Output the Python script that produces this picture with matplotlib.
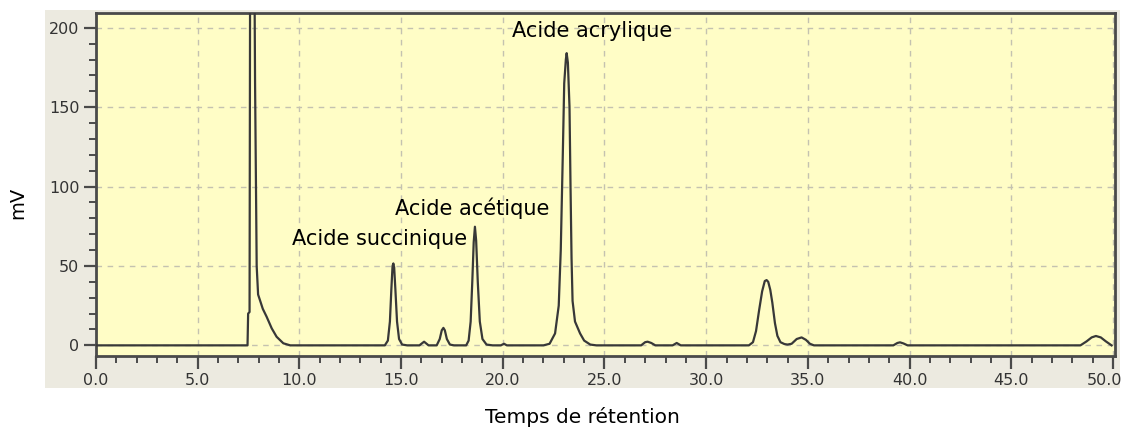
import matplotlib
matplotlib.use("Agg")
import matplotlib.pyplot as plt
import matplotlib.transforms as mtransforms
from matplotlib.patches import Rectangle
from matplotlib.ticker import MultipleLocator, FormatStrFormatter

# trace points (retention time in min, signal in mV)
t_solvent = [0.0, 7.45, 7.48, 7.55, 7.58, 7.78, 7.82, 7.90, 7.97, 8.06, 8.20, 8.39, 8.64, 8.88, 9.21, 9.55]
s_solvent = [0.0, 0.0, 20.0, 21.0, 260.0, 260.0, 166.0, 50.0, 32.0, 28.5, 23.0, 18.0, 10.7, 5.4, 1.3, 0.0]

t_succ = [14.20, 14.35, 14.45, 14.52, 14.58, 14.62, 14.66, 14.72, 14.80, 14.90, 15.05, 15.30]
s_succ = [0.0, 3.0, 15.0, 35.0, 50.0, 51.6, 49.0, 35.0, 15.0, 4.0, 0.5, 0.0]

t_small1 = [15.90, 16.13, 16.35, 16.75, 16.90, 17.00, 17.08, 17.15, 17.25, 17.40, 17.60]
s_small1 = [0.0, 2.3, 0.0, 0.0, 4.0, 9.5, 11.0, 9.5, 4.0, 0.5, 0.0]

t_acet = [18.20, 18.32, 18.42, 18.50, 18.57, 18.63, 18.69, 18.77, 18.87, 19.00, 19.20, 19.50, 19.90, 20.06, 20.20]
s_acet = [0.0, 3.0, 15.0, 40.0, 65.0, 74.7, 66.0, 40.0, 15.0, 4.0, 0.5, 0.0, 0.0, 1.0, 0.0]

t_acryl = [22.00, 22.30, 22.57, 22.75, 22.85, 22.95, 23.02, 23.10, 23.14, 23.20, 23.28, 23.33,
           23.38, 23.43, 23.55, 23.80, 24.00, 24.30, 24.60]
s_acryl = [0.0, 1.0, 7.5, 25.0, 60.0, 120.0, 165.0, 180.0, 184.0, 178.0, 150.0, 100.0,
           55.0, 28.0, 15.0, 7.5, 3.0, 0.5, 0.0]

t_small2 = [26.80, 27.00, 27.12, 27.30, 27.50, 28.35, 28.55, 28.75]
s_small2 = [0.0, 2.0, 2.3, 1.5, 0.0, 0.0, 1.5, 0.0]

t_p33 = [32.10, 32.30, 32.45, 32.60, 32.75, 32.88, 32.97, 33.05, 33.15, 33.25, 33.38, 33.50,
         33.65, 33.85, 34.00, 34.20, 34.45, 34.69, 34.90, 35.10, 35.30]
s_p33 = [0.0, 2.0, 9.0, 22.0, 34.0, 40.5, 41.1, 40.0, 35.0, 27.0, 14.0, 6.0,
         2.0, 0.8, 0.5, 1.0, 4.0, 5.0, 3.5, 1.0, 0.0]

t_tail = [39.20, 39.40, 39.53, 39.70, 39.90, 48.40, 48.70, 48.95, 49.16, 49.40, 49.65, 49.93]
s_tail = [0.0, 1.5, 1.9, 1.2, 0.0, 0.0, 2.5, 5.0, 5.9, 5.0, 2.5, 0.0]

time = t_solvent + t_succ + t_small1 + t_acet + t_acryl + t_small2 + t_p33 + t_tail
signal = s_solvent + s_succ + s_small1 + s_acet + s_acryl + s_small2 + s_p33 + s_tail

peak_names = ["Acide succinique", "Acide acétique", "Acide acrylique"]
label_pos = [(9.62, 63.2), (14.70, 82.0), (20.43, 194.3)]

fig = plt.figure(figsize=(11.28, 4.3), dpi=100)
fig.patch.set_facecolor("white")
# grey panel behind the plot
fig.add_artist(Rectangle((0.0399, 0.0977), 0.953, 0.879, transform=fig.transFigure,
                         facecolor="#ECEAE0", edgecolor="none", zorder=-5))

ax = fig.add_axes([0.0851, 0.1721, 0.9034, 0.7977])
ax.set_zorder(2)
ax.set_facecolor("#FFFDC6")
ax.plot(time, signal, color="#383838", lw=1.6, zorder=3)

ax.set_xlim(0, 50.1)
ax.set_ylim(-6.7, 209.3)
ax.xaxis.set_major_locator(MultipleLocator(5))
ax.xaxis.set_minor_locator(MultipleLocator(1))
ax.xaxis.set_major_formatter(FormatStrFormatter("%.1f"))
ax.yaxis.set_major_locator(MultipleLocator(50))
ax.yaxis.set_minor_locator(MultipleLocator(10))

ax.grid(True, which="major", color="#C4C2B0", ls=(0, (4, 4)), lw=1.0, zorder=1)
for sp in ax.spines.values():
    sp.set_color("#4a4a4a")
    sp.set_linewidth(2)
ax.tick_params(which="major", length=9, width=1.6, color="#4a4a4a",
               labelsize=11.5, labelcolor="#333333", pad=3)
ax.tick_params(which="minor", length=5, width=1.4, color="#4a4a4a")

for name, (tx, ty) in zip(peak_names, label_pos):
    ax.text(tx, ty, name, fontsize=15, color="black", ha="left", va="baseline", zorder=4)

fig.text(0.016, 0.528, "mV", rotation=90, fontsize=14, ha="center", va="center")
fig.text(0.516, 0.03, "Temps de rétention", fontsize=14.5, ha="center", va="center")

# nudge the last x label so it stays inside the figure
fig.canvas.draw()
xlabels = [lb for lb in ax.get_xticklabels() if lb.get_text() == "50.0"]
for lb in xlabels:
    lb.set_transform(lb.get_transform() + mtransforms.ScaledTranslation(-6 / 72, 0, fig.dpi_scale_trans))

fig.savefig("out.png", dpi=100)
